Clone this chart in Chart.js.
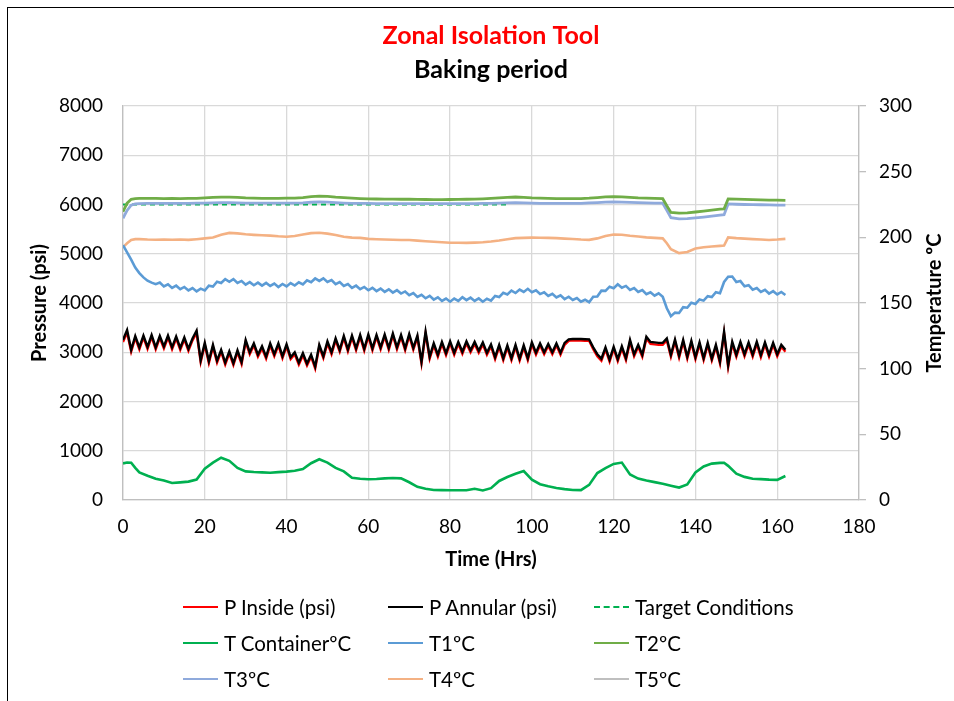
<!DOCTYPE html>
<html>
<head>
<meta charset="utf-8">
<title>Zonal Isolation Tool - Baking period</title>
<script src="https://cdn.jsdelivr.net/npm/chart.js@4.4.1/dist/chart.umd.min.js"></script>
<style>
  html, body { margin: 0; padding: 0; background: #fff; overflow: hidden; }
  #wrap { position: relative; width: 954px; height: 701px; overflow: hidden; }
  #frame { position: absolute; left: 7px; top: 7px; width: 1000px; height: 1000px; border: 1.5px solid #000; }
  #chart { position: absolute; left: 0; top: 0; }
  #legend { position: absolute; left: 0; top: 0; font-family: Lato, "Open Sans", sans-serif; font-size: 20.5px; color: #000; }
  .item { position: absolute; display: flex; align-items: center; height: 26px; white-space: nowrap; }
  .swatch { width: 35px; height: 0; margin-right: 6px; }
</style>
</head>
<body>
<div id="wrap">
  <div id="frame"></div>
  <canvas id="chart" width="954" height="701"></canvas>
  <div id="legend"></div>
</div>
<script>
// pressure readings, one per hour (0..162 h)
const hoursP = [
  0,1,2,3,4,5,6,7,8,9,10,11,12,13,14,15,16,17,18,19,
  20,21,22,23,24,25,26,27,28,29,30,31,32,33,34,35,36,37,38,39,
  40,41,42,43,44,45,46,47,48,49,50,51,52,53,54,55,56,57,58,59,
  60,61,62,63,64,65,66,67,68,69,70,71,72,73,74,75,76,77,78,79,
  80,81,82,83,84,85,86,87,88,89,90,91,92,93,94,95,96,97,98,99,
  100,101,102,103,104,105,106,107,108,109,110,111,112,113,114,115,116,117,118,119,
  120,121,122,123,124,125,126,127,128,129,130,131,132,133,134,135,136,137,138,139,
  140,141,142,143,144,145,146,147,148,149,150,151,152,153,154,155,156,157,158,159,
  160,161,162
];

const pAnnular = [
  3250,3450,3050,3330,3100,3340,3110,3350,3100,3330,
  3120,3340,3100,3320,3090,3300,3070,3280,3440,2840,
  3190,2820,3150,2830,3050,2790,3020,2780,3040,2800,
  3250,3000,3180,2950,3120,2910,3180,2960,3180,2920,
  3160,2900,3000,2790,2980,2770,2950,2710,3150,2920,
  3220,3000,3280,3050,3330,3060,3340,3080,3350,3070,
  3360,3080,3350,3100,3360,3090,3380,3100,3350,3080,
  3370,3090,3340,2810,3420,2910,3180,2950,3210,2980,
  3220,2990,3210,3010,3220,3040,3210,3030,3200,2990,
  3160,2900,3150,2880,3140,2880,3150,2870,3140,2880,
  3200,2990,3180,3000,3170,3000,3180,2990,3190,3263,
  3270,3270,3268,3265,3262,3100,2960,2870,3100,2850,
  3110,2860,3120,2880,3250,2960,3150,2950,3316,3210,
  3200,3190,3190,3280,2950,3260,2930,3250,2910,3230,
  2900,3200,2880,3190,2870,3150,2810,3420,2740,3214,
  2950,3210,2960,3200,2950,3214,2944,3200,2950,3190,
  2960,3150,3050
];

const pInside = [
  3210,3400,3010,3290,3060,3300,3070,3310,3060,3290,
  3080,3300,3060,3280,3050,3260,3030,3240,3390,2800,
  3150,2780,3110,2790,3010,2750,2980,2740,3000,2760,
  3210,2960,3140,2910,3080,2870,3140,2920,3140,2880,
  3120,2860,2960,2750,2940,2730,2910,2670,3110,2880,
  3180,2960,3240,3010,3290,3020,3300,3040,3310,3030,
  3320,3040,3310,3060,3320,3050,3340,3060,3310,3040,
  3330,3050,3300,2770,3380,2870,3140,2910,3170,2940,
  3180,2950,3170,2970,3180,3000,3170,2990,3160,2950,
  3120,2860,3110,2840,3100,2840,3110,2830,3100,2840,
  3160,2950,3140,2960,3130,2960,3140,2950,3150,3230,
  3240,3240,3238,3235,3232,3060,2920,2830,3060,2810,
  3070,2820,3080,2840,3210,2920,3110,2910,3280,3170,
  3160,3150,3150,3240,2910,3220,2890,3210,2870,3190,
  2860,3160,2840,3150,2830,3110,2770,3380,2700,3170,
  2910,3170,2920,3160,2910,3170,2900,3160,2910,3150,
  2920,3110,3010
];

// T1 is logged on the hourly grid too (it shows the small spikes)
const t1 = [
  194,188.5,183,177,172.8,169.5,167,165.5,164.3,165.6,
  162.6,164.2,161.5,163.2,160.5,162.2,159.6,161.4,158.8,160.9,
  159.5,163.2,162.5,166.2,165.2,168.2,166.2,168.2,165.3,166.8,
  164,165.9,163.5,165.5,163.2,165.3,163,164.8,162.2,164.5,
  162.6,165.2,163.3,165.8,164.2,167.2,165.8,168.7,166.8,168.8,
  166,167.4,164.4,165.9,163,164.4,161.5,163.2,160.5,162.2,
  159.7,161.6,159.1,161,158.5,160.4,157.9,159.8,157.2,158.8,
  156,157.5,154.6,156.2,153.6,155.4,152.6,154.3,151.6,153.4,
  151,153.4,151.6,154.4,152.2,154.1,151.6,153.5,151,153.2,
  151.8,155.4,154.5,157.8,156.5,159.4,157.6,160.2,158.4,160.8,
  158.2,159.7,156.8,158.2,155.4,157,154.2,155.8,153,154.8,
  152.3,153.8,151,152.5,150.6,154.7,155,159.4,159.2,162.4,
  161.2,164.2,161.6,163,160,161.4,158.4,159.8,156.7,158.2,
  155.6,157.4,154.8,146,140,142.7,142.4,146.8,146.4,150.2,
  149.3,152.7,151.8,155.2,154.5,158.2,157.4,166,170,170.2,
  166,166.7,162.8,163.6,160.2,161.4,158.5,160,157.2,159,
  156.5,158.4,156.1
];

// the other temperatures, read every ~2 h
const hoursT = [
  0,1,2,3,4,6,8,10,12,14,16,18,20,22,24,26,28,30,32,34,
  36,38,40,42,44,46,48,50,52,54,56,58,60,62,64,66,68,70,72,74,
  76,78,80,82,84,86,88,90,92,94,96,98,100,102,104,106,108,110,112,114,
  116,118,120,122,124,126,128,130,132,133,134,136,138,140,142,144,146,147,148,150,
  152,154,156,158,160,162
];

const tContainer = [
  27.9,28.6,28.4,24.5,21,18.5,16.2,14.8,12.9,13.4,14,15.6,23.8,28.4,32.2,29.8,24.4,21.8,21.3,21,
  20.8,21.2,21.6,22.3,23.5,28,31,28.5,24.5,21.8,17,16.2,15.8,16,16.5,16.8,16.5,13.5,10,8.5,
  7.6,7.5,7.4,7.4,7.4,8.5,7.3,9,14.5,17.5,20,22,15.5,12,10.4,9.2,8.3,7.6,7.5,11.5,
  20.5,24.3,27.5,28.5,19.5,16.3,14.8,13.6,12.3,11.6,10.9,9.5,11.8,21,25.5,27.7,28.3,28.4,26,20,
  17.6,16.2,15.9,15.5,15.3,18.3
];

const t2 = [
  219.5,226,229,229.4,229.6,229.6,229.6,229.5,229.6,229.5,229.6,229.7,230,230.4,230.6,230.6,230.4,230,229.8,229.7,
  229.7,229.7,229.8,229.9,230.3,231,231.4,231.2,230.6,230.2,229.8,229.5,229.3,229.2,229.1,229.1,229,229,228.9,228.8,
  228.7,228.7,228.8,228.9,229,229.1,229.3,229.6,230,230.4,230.7,230.4,230,229.8,229.6,229.5,229.4,229.4,229.5,229.8,
  230.3,230.8,231,230.8,230.4,230,229.8,229.6,229.4,224,219,218.4,218.6,219.3,220,220.7,221.4,221.7,229.2,229.1,
  228.9,228.7,228.5,228.4,228.3,228.2
];

const t3 = [
  214.5,220.5,224.5,225.4,225.7,225.9,225.9,225.9,225.9,225.9,225.9,226,226.1,226.3,226.4,226.4,226.3,226.1,226,226,
  226,226,226,226.1,226.3,226.7,226.9,226.8,226.4,226.1,225.9,225.8,225.8,225.7,225.7,225.6,225.6,225.6,225.6,225.6,
  225.6,225.6,225.6,225.6,225.7,225.7,225.8,225.9,226,226.2,226.4,226.3,226.1,225.9,225.8,225.8,225.8,225.8,225.9,226.2,
  226.5,226.8,226.9,226.8,226.6,226.4,226.2,226.1,226,220.5,215,214,214.3,214.8,215.4,216.1,216.9,217.2,225.4,225.2,
  225,224.9,224.8,224.7,224.6,224.6
];

const t4 = [
  192.5,195.5,198,198.6,198.6,198.3,198.2,198.4,198.2,198.3,198.1,198.6,199.2,199.8,202,203.4,203,202.3,201.9,201.6,
  201.3,200.8,200.5,201,202.2,203.2,203.5,202.8,201.8,200.5,199.8,199.6,198.8,198.5,198.3,198.2,198,198,197.5,197,
  196.6,196.3,195.9,195.9,195.8,196,196.3,196.8,197.6,198.6,199.4,199.6,199.8,199.7,199.6,199.4,199,198.7,198.3,198.1,
  199.2,201,202.2,202,201.2,200.6,200,199.6,199.2,195.5,191,188,188.8,191.5,192.4,193,193.5,193.8,200,199.4,
  199,198.6,198.3,198,198.3,198.8
];

// T5 has no readings in this period
const t5 = [];

const targetHours = [0, 94];
const targetTemp = [225, 225];

const FONT = 'Lato, "Open Sans", sans-serif';

function pts(xs, ys) {
  return ys.map((y, i) => ({ x: xs[i], y: y }));
}

function line(label, xs, ys, color, axis, width, order, dash) {
  return {
    label: label,
    data: pts(xs, ys),
    yAxisID: axis,
    borderColor: color,
    backgroundColor: color,
    borderWidth: width,
    borderDash: dash || [],
    pointRadius: 0,
    tension: 0,
    fill: false,
    order: order
  };
}

const datasets = [
  line('P Inside (psi)', hoursP, pInside, '#FF0000', 'y', 2.4, 1),
  line('P Annular (psi)', hoursP, pAnnular, '#000000', 'y', 2.4, 0),
  line('Target Conditions', targetHours, targetTemp, '#00B050', 'y1', 2, 3, [5, 4]),
  line('T ContainerºC', hoursT, tContainer, '#00B050', 'y1', 2.6, 2),
  line('T1ºC', hoursP, t1, '#5B9BD5', 'y1', 2.6, 2),
  line('T2ºC', hoursT, t2, '#70AD47', 'y1', 2.8, 2),
  line('T3ºC', hoursT, t3, '#8FAADC', 'y1', 2.8, 2),
  line('T4ºC', hoursT, t4, '#F4B183', 'y1', 2.6, 2),
  line('T5ºC', hoursT, t5, '#BFBFBF', 'y1', 2.6, 2)
];

// Excel puts the secondary title bottom-to-top, Chart.js would rotate it the other way
const rightAxisTitle = {
  id: 'rightAxisTitle',
  afterDraw(chart) {
    const s = chart.scales.y1;
    const ctx = chart.ctx;
    ctx.save();
    ctx.translate(s.right - 19, (s.top + s.bottom) / 2);
    ctx.rotate(-Math.PI / 2);
    ctx.font = 'bold 20px ' + FONT;
    ctx.fillStyle = '#000';
    ctx.textAlign = 'center';
    ctx.textBaseline = 'middle';
    ctx.fillText('Temperature ºC', 0, 0);
    ctx.restore();
  }
};

const tickFont = { family: FONT, size: 19 };
const titleFont = { family: FONT, size: 20, weight: 'bold' };

const chart = new Chart(document.getElementById('chart'), {
  type: 'line',
  data: { datasets },
  options: {
    responsive: false,
    animation: false,
    layout: { padding: { top: 0, left: 0, right: 0, bottom: 121 } },
    plugins: {
      legend: { display: false },
      tooltip: { enabled: false },
      title: {
        display: true,
        fullSize: false,
        text: 'Zonal Isolation Tool',
        color: '#FF0000',
        font: { family: FONT, size: 25, weight: 'bold' },
        padding: { top: 21, bottom: 4 }
      },
      subtitle: {
        display: true,
        fullSize: false,
        text: 'Baking period',
        color: '#000',
        font: { family: FONT, size: 25, weight: 'bold' },
        padding: { top: 0, bottom: 21 }
      }
    },
    scales: {
      x: {
        type: 'linear',
        min: 0,
        max: 180,
        ticks: { stepSize: 20, color: '#000', font: tickFont, padding: 15, maxRotation: 0 },
        grid: { color: '#D9D9D9', lineWidth: 1.3, drawTicks: false },
        border: { color: '#BFBFBF', width: 1.3 },
        title: { display: true, text: 'Time (Hrs)', color: '#000', font: titleFont, padding: { top: 0, bottom: 8 } },
        afterFit: s => { s.height = 80; }
      },
      y: {
        position: 'left',
        min: 0,
        max: 8000,
        ticks: { stepSize: 1000, color: '#000', font: tickFont, padding: 20, callback: v => String(v) },
        grid: { color: '#D9D9D9', lineWidth: 1.3, drawTicks: false },
        border: { color: '#BFBFBF', width: 1.3 },
        title: { display: true, text: 'Pressure (psi)', color: '#000', font: titleFont, padding: { top: 28, bottom: 0 } },
        afterFit: s => { s.width = 123; }
      },
      y1: {
        position: 'right',
        min: 0,
        max: 300,
        ticks: { stepSize: 50, color: '#000', font: tickFont, padding: 13 },
        grid: { drawOnChartArea: false, drawTicks: true, tickLength: 7, tickColor: '#BFBFBF', lineWidth: 1.3 },
        border: { color: '#BFBFBF', width: 1.3 },
        afterFit: s => { s.width = 95; }
      }
    }
  },
  plugins: [rightAxisTitle]
});

// legend: 3 columns x 3 rows like the Excel one
const legendCols = [183, 388, 594];
const legendRows = [607, 643, 679];
const legendEl = document.getElementById('legend');
chart.data.datasets.forEach((ds, i) => {
  const item = document.createElement('div');
  item.className = 'item';
  item.style.left = legendCols[i % 3] + 'px';
  item.style.top = (legendRows[Math.floor(i / 3)] - 13) + 'px';
  const sw = document.createElement('span');
  sw.className = 'swatch';
  sw.style.borderTop = '2.5px ' + (ds.borderDash.length ? 'dashed ' : 'solid ') + ds.borderColor;
  const txt = document.createElement('span');
  txt.textContent = ds.label;
  item.appendChild(sw);
  item.appendChild(txt);
  legendEl.appendChild(item);
});
</script>
</body>
</html>
